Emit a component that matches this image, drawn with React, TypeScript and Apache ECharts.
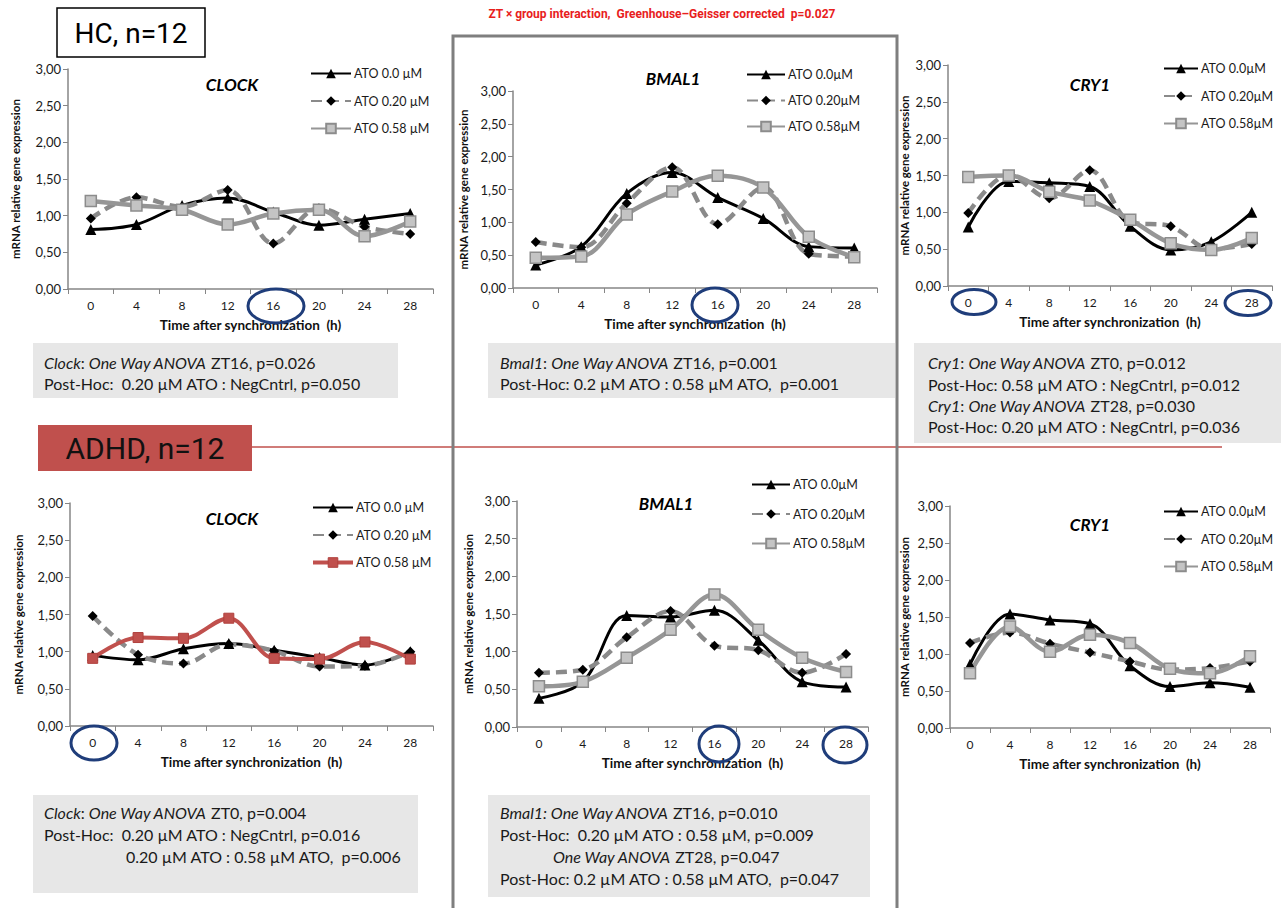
import React, { useEffect, useRef } from 'react';
import * as echarts from 'echarts';

// Zeitgeber time points (hours after synchronization)
const ZT = ['0', '4', '8', '12', '16', '20', '24', '28'];
const Y_MIN = 0;
const Y_MAX = 3;
const Y_STEP = 0.5;

const NAMES_SPACED = ['ATO 0.0 µM', 'ATO 0.20 µM', 'ATO 0.58 µM'];
const NAMES_TIGHT = ['ATO 0.0µM', 'ATO 0.20µM', 'ATO 0.58µM'];

// Healthy controls
const HC_CLOCK_ATO0 = [0.81, 0.88, 1.14, 1.24, 1.05, 0.87, 0.95, 1.03];
const HC_CLOCK_ATO020 = [0.96, 1.25, 1.12, 1.35, 0.62, 1.1, 0.85, 0.75];
const HC_CLOCK_ATO058 = [1.2, 1.14, 1.08, 0.88, 1.03, 1.08, 0.72, 0.92];

const HC_BMAL1_ATO0 = [0.35, 0.63, 1.44, 1.76, 1.38, 1.06, 0.63, 0.61];
const HC_BMAL1_ATO020 = [0.7, 0.62, 1.29, 1.84, 0.97, 1.53, 0.52, 0.48];
const HC_BMAL1_ATO058 = [0.46, 0.48, 1.12, 1.47, 1.71, 1.53, 0.78, 0.47];

const HC_CRY1_ATO0 = [0.8, 1.42, 1.4, 1.35, 0.81, 0.49, 0.6, 1.0];
const HC_CRY1_ATO020 = [0.99, 1.51, 1.19, 1.57, 0.87, 0.81, 0.5, 0.57];
const HC_CRY1_ATO058 = [1.48, 1.5, 1.28, 1.16, 0.9, 0.58, 0.49, 0.65];

// ADHD patients
const ADHD_CLOCK_ATO0 = [0.95, 0.89, 1.04, 1.11, 1.02, 0.92, 0.82, 1.0];
const ADHD_CLOCK_ATO020 = [1.48, 0.96, 0.84, 1.1, 1.01, 0.8, 0.81, 1.0];
const ADHD_CLOCK_ATO058 = [0.91, 1.19, 1.18, 1.45, 0.91, 0.9, 1.13, 0.9];

const ADHD_BMAL1_ATO0 = [0.38, 0.6, 1.48, 1.46, 1.55, 1.15, 0.6, 0.53];
const ADHD_BMAL1_ATO020 = [0.72, 0.76, 1.19, 1.54, 1.08, 1.02, 0.72, 0.97];
const ADHD_BMAL1_ATO058 = [0.54, 0.6, 0.92, 1.29, 1.76, 1.29, 0.92, 0.73];

const ADHD_CRY1_ATO0 = [0.86, 1.54, 1.46, 1.41, 0.84, 0.56, 0.61, 0.55];
const ADHD_CRY1_ATO020 = [1.15, 1.29, 1.14, 1.02, 0.9, 0.79, 0.81, 0.9];
const ADHD_CRY1_ATO058 = [0.74, 1.37, 1.03, 1.26, 1.15, 0.8, 0.74, 0.97];

const FONT = 'Lato, "Open Sans", sans-serif';
const NARROW = 'Roboto, "Liberation Sans", sans-serif';
const AXIS_GREY = '#868686';
const RED = '#c0504d';
const NAVY = '#1f3d7a';

type Panel = {
  gene: string;
  geneX: number;
  geneY: number;
  grid: { left: number; top: number; width: number; height: number };
  names: string[];
  values: number[][];
  legend: { left: number; top: number; gap: number; width: number };
  yNameGap: number;
  redThird?: boolean;
};

const PANELS: Panel[] = [
  {
    gene: 'CLOCK', geneX: 232, geneY: 84,
    grid: { left: 68, top: 69, width: 365, height: 220 },
    names: NAMES_SPACED,
    values: [HC_CLOCK_ATO0, HC_CLOCK_ATO020, HC_CLOCK_ATO058],
    legend: { left: 310, top: 67, gap: 14.5, width: 40 },
    yNameGap: 47,
  },
  {
    gene: 'BMAL1', geneX: 673, geneY: 78,
    grid: { left: 513, top: 91, width: 364, height: 197 },
    names: NAMES_TIGHT,
    values: [HC_BMAL1_ATO0, HC_BMAL1_ATO020, HC_BMAL1_ATO058],
    legend: { left: 746, top: 68, gap: 13, width: 38 },
    yNameGap: 44,
  },
  {
    gene: 'CRY1', geneX: 1090, geneY: 84,
    grid: { left: 948, top: 65, width: 324, height: 221 },
    names: NAMES_TIGHT,
    values: [HC_CRY1_ATO0, HC_CRY1_ATO020, HC_CRY1_ATO058],
    legend: { left: 1163, top: 62, gap: 14.5, width: 34 },
    yNameGap: 38,
  },
  {
    gene: 'CLOCK', geneX: 232, geneY: 518,
    grid: { left: 70, top: 503, width: 363, height: 223 },
    names: NAMES_SPACED,
    values: [ADHD_CLOCK_ATO0, ADHD_CLOCK_ATO020, ADHD_CLOCK_ATO058],
    legend: { left: 311, top: 501, gap: 14.5, width: 40 },
    yNameGap: 46,
    redThird: true,
  },
  {
    gene: 'BMAL1', geneX: 666, geneY: 503,
    grid: { left: 517, top: 501, width: 351, height: 226 },
    names: NAMES_TIGHT,
    values: [ADHD_BMAL1_ATO0, ADHD_BMAL1_ATO020, ADHD_BMAL1_ATO058],
    legend: { left: 751, top: 478, gap: 16.5, width: 38 },
    yNameGap: 43,
  },
  {
    gene: 'CRY1', geneX: 1090, geneY: 524,
    grid: { left: 950, top: 506, width: 320, height: 222 },
    names: NAMES_TIGHT,
    values: [ADHD_CRY1_ATO0, ADHD_CRY1_ATO020, ADHD_CRY1_ATO058],
    legend: { left: 1163, top: 505, gap: 14.5, width: 34 },
    yNameGap: 40,
  },
];

const seriesStyle = (k: number, red: boolean) => {
  if (k === 0) {
    return {
      symbol: 'triangle',
      symbolSize: 11,
      lineStyle: { color: '#000000', width: 3 },
      itemStyle: { color: '#000000' },
    };
  }
  if (k === 1) {
    return {
      symbol: 'diamond',
      symbolSize: 10,
      lineStyle: { color: '#8a8a8a', width: 4.5, type: [11, 6] },
      itemStyle: { color: '#000000' },
    };
  }
  if (red) {
    return {
      symbol: 'rect',
      symbolSize: 10,
      lineStyle: { color: RED, width: 4 },
      itemStyle: { color: RED, borderColor: '#b0403d', borderWidth: 1 },
    };
  }
  return {
    symbol: 'rect',
    symbolSize: 11,
    lineStyle: { color: '#969696', width: 4.5 },
    itemStyle: { color: '#c4c4c4', borderColor: '#8c8c8c', borderWidth: 1.5 },
  };
};

type Box = { x: number; y: number; w: number; h: number; lines: { x: number; y: number; text: string }[] };

const BOXES: Box[] = [
  {
    x: 33, y: 343, w: 365, h: 55,
    lines: [
      { x: 44, y: 362, text: '{i|Clock}: {i|One Way ANOVA} ZT16, p=0.026' },
      { x: 44, y: 383, text: 'Post-Hoc:  0.20 µM ATO : NegCntrl, p=0.050' },
    ],
  },
  {
    x: 488, y: 343, w: 407, h: 55,
    lines: [
      { x: 500, y: 362, text: '{i|Bmal1}: {i|One Way ANOVA} ZT16, p=0.001' },
      { x: 500, y: 383, text: 'Post-Hoc: 0.2 µM ATO : 0.58 µM ATO,  p=0.001' },
    ],
  },
  {
    x: 914, y: 343, w: 367, h: 100,
    lines: [
      { x: 928, y: 362, text: '{i|Cry1}: {i|One Way ANOVA} ZT0, p=0.012' },
      { x: 928, y: 384, text: 'Post-Hoc: 0.58 µM ATO : NegCntrl, p=0.012' },
      { x: 928, y: 405, text: '{i|Cry1}: {i|One Way ANOVA} ZT28, p=0.030' },
      { x: 928, y: 426, text: 'Post-Hoc: 0.20 µM ATO : NegCntrl, p=0.036' },
    ],
  },
  {
    x: 33, y: 795, w: 385, h: 98,
    lines: [
      { x: 44, y: 812, text: '{i|Clock}: {i|One Way ANOVA} ZT0, p=0.004' },
      { x: 44, y: 834, text: 'Post-Hoc:  0.20 µM ATO : NegCntrl, p=0.016' },
      { x: 126, y: 856, text: '0.20 µM ATO : 0.58 µM ATO,  p=0.006' },
    ],
  },
  {
    x: 488, y: 795, w: 382, h: 102,
    lines: [
      { x: 500, y: 812, text: '{i|Bmal1: One Way ANOVA} ZT16, p=0.010' },
      { x: 500, y: 834, text: 'Post-Hoc:  0.20 µM ATO : 0.58 µM, p=0.009' },
      { x: 553, y: 856, text: '{i|One Way ANOVA} ZT28, p=0.047' },
      { x: 500, y: 878, text: 'Post-Hoc: 0.2 µM ATO : 0.58 µM ATO,  p=0.047' },
    ],
  },
];

// Highlighted time points (ellipses around x-axis labels)
const MARKS = [
  { cx: 276, cy: 306, rx: 28, ry: 17 },
  { cx: 715, cy: 305, rx: 23, ry: 17 },
  { cx: 974, cy: 302, rx: 22, ry: 12.5 },
  { cx: 1248, cy: 303, rx: 23, ry: 12.5 },
  { cx: 94, cy: 743, rx: 23, ry: 17 },
  { cx: 719, cy: 744, rx: 20, ry: 18 },
  { cx: 845, cy: 745, rx: 22, ry: 18 },
];

const BOX_FONT_SIZE = 16;

function buildOption() {
  const grid: any[] = [];
  const xAxis: any[] = [];
  const yAxis: any[] = [];
  const series: any[] = [];
  const legend: any[] = [];
  const graphic: any[] = [];

  PANELS.forEach((p, i) => {
    grid.push({ ...p.grid, outerBoundsMode: 'none', containLabel: false });
    xAxis.push({
      type: 'category',
      gridIndex: i,
      data: ZT,
      boundaryGap: true,
      axisLine: { show: true, lineStyle: { color: AXIS_GREY, width: 1.5 } },
      axisTick: { show: true, length: 5, lineStyle: { color: AXIS_GREY } },
      axisLabel: { color: '#1a1a1a', fontSize: 12, margin: 10, fontFamily: FONT, interval: 0 },
      splitLine: { show: false },
      name: 'Time after synchronization  (h)',
      nameLocation: 'middle',
      nameGap: 29,
      nameTextStyle: { color: '#111', fontSize: 13.5, fontWeight: 'bold', fontFamily: FONT },
    });
    yAxis.push({
      type: 'value',
      gridIndex: i,
      min: Y_MIN,
      max: Y_MAX,
      interval: Y_STEP,
      axisLine: { show: true, lineStyle: { color: AXIS_GREY, width: 1.5 } },
      axisTick: { show: true, length: 5, lineStyle: { color: AXIS_GREY } },
      axisLabel: {
        color: '#1a1a1a', fontSize: 13, margin: 7, fontFamily: FONT,
        formatter: (v: number) => v.toFixed(2).replace('.', ','),
      },
      splitLine: { show: false },
      name: 'mRNA relative gene expression',
      nameLocation: 'middle',
      nameGap: p.yNameGap,
      nameTextStyle: { color: '#111', fontSize: 11.5, fontWeight: 'bold', fontFamily: FONT },
    });

    const legendData: any[] = [];
    p.values.forEach((vals, k) => {
      const st = seriesStyle(k, !!p.redThird && k === 2);
      series.push({
        type: 'line',
        name: p.names[k],
        xAxisIndex: i,
        yAxisIndex: i,
        data: vals,
        smooth: 0.35,
        showSymbol: true,
        ...st,
      });
      if (p.redThird && k === 2) {
        legendData.push({ name: p.names[k], lineStyle: st.lineStyle, itemStyle: st.itemStyle });
      } else {
        legendData.push({ name: p.names[k] });
      }
    });

    legend.push({
      orient: 'vertical',
      left: p.legend.left,
      top: p.legend.top,
      itemGap: p.legend.gap,
      itemWidth: p.legend.width,
      itemHeight: 12,
      padding: 0,
      selectedMode: false,
      data: legendData,
      textStyle: { color: '#1a1a1a', fontSize: 12.5, fontFamily: FONT, padding: [0, 0, 0, -2] },
    });

    graphic.push({
      type: 'text',
      x: p.geneX,
      y: p.geneY,
      style: {
        text: p.gene,
        fill: '#000',
        font: `italic bold 17px ${FONT}`,
        textAlign: 'center',
        textVerticalAlign: 'middle',
      },
    });
  });

  // grey frame around the BMAL1 column
  graphic.push({
    type: 'rect',
    shape: { x: 453, y: 36, width: 444, height: 900 },
    style: { fill: 'none', stroke: '#7f7f7f', lineWidth: 3 },
    z: 10,
  });

  // statistics boxes
  BOXES.forEach((b) => {
    graphic.push({
      type: 'rect',
      shape: { x: b.x, y: b.y, width: b.w, height: b.h },
      style: { fill: '#e7e7e7' },
      z: 5,
    });
    b.lines.forEach((ln) => {
      graphic.push({
        type: 'text',
        x: ln.x,
        y: ln.y,
        z: 6,
        style: {
          text: ln.text,
          fill: '#1a1a1a',
          font: `${BOX_FONT_SIZE}px ${FONT}`,
          textVerticalAlign: 'middle',
          rich: { i: { fontStyle: 'italic', fontSize: BOX_FONT_SIZE, fontFamily: FONT, fill: '#1a1a1a' } },
        },
      });
    });
  });

  // group labels and separator
  graphic.push({
    type: 'rect',
    shape: { x: 57, y: 8, width: 148, height: 49 },
    style: { fill: '#ffffff', stroke: '#000', lineWidth: 1.5 },
  });
  graphic.push({
    type: 'text',
    x: 131,
    y: 33,
    style: { text: 'HC, n=12', fill: '#000', font: `28px ${NARROW}`, textAlign: 'center', textVerticalAlign: 'middle' },
  });
  graphic.push({
    type: 'line',
    shape: { x1: 252, y1: 447, x2: 1222, y2: 447 },
    style: { stroke: RED, lineWidth: 1.5 },
  });
  graphic.push({
    type: 'rect',
    shape: { x: 38, y: 425, width: 214, height: 46 },
    style: { fill: RED },
  });
  graphic.push({
    type: 'text',
    x: 145,
    y: 448,
    style: { text: 'ADHD, n=12', fill: '#111', font: `30px ${NARROW}`, textAlign: 'center', textVerticalAlign: 'middle' },
  });
  graphic.push({
    type: 'text',
    x: 662,
    y: 14,
    style: {
      text: 'ZT × group interaction,  Greenhouse–Geisser corrected  p=0.027',
      fill: '#e8201c',
      font: `bold 12px ${NARROW}`,
      textAlign: 'center',
      textVerticalAlign: 'middle',
    },
  });

  MARKS.forEach((m) => {
    graphic.push({
      type: 'ellipse',
      shape: { cx: m.cx, cy: m.cy, rx: m.rx, ry: m.ry },
      style: { fill: 'none', stroke: NAVY, lineWidth: 3 },
      z: 20,
    });
  });

  return {
    animation: false,
    backgroundColor: '#ffffff',
    grid,
    xAxis,
    yAxis,
    series,
    legend,
    graphic: { elements: graphic },
  };
}

export default function App() {
  const ref = useRef<HTMLDivElement>(null);
  useEffect(() => {
    if (!ref.current) return;
    const chart = echarts.init(ref.current, null, { renderer: 'svg' });
    chart.setOption(buildOption() as any);
    return () => chart.dispose();
  }, []);
  return (
    <div
      ref={ref}
      style={{ position: 'absolute', left: 0, top: 0, width: 1281, height: 908, background: '#fff' }}
    />
  );
}
